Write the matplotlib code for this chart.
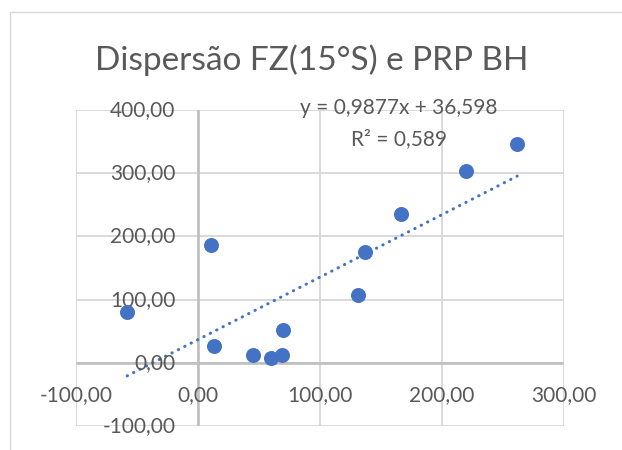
import numpy as np
import matplotlib
matplotlib.use('Agg')
import matplotlib.pyplot as plt
from matplotlib.patches import Rectangle

# Dados (FZ 15°S x PRP BH)
fz = [-58, 11, 13, 45, 60, 69, 70, 131, 137, 167, 220, 262]
prp = [81, 187, 27, 13, 7, 12, 52, 107, 176, 235, 303, 346]

# Linha de tendência linear (valores da legenda do Excel)
slope = 0.9877
intercept = 36.598
r2 = 0.589

x_ticks = [-100, 0, 100, 200, 300]
y_ticks = [-100, 0, 100, 200, 300, 400]

title = 'Dispersão FZ(15°S) e PRP BH'

plt.rcParams['font.family'] = ['Lato', 'DejaVu Sans']
txt_color = '#595959'


def fmt(v):
    return f'{v:.2f}'.replace('.', ',')


W, H = 622, 450
fig = plt.figure(figsize=(W / 100, H / 100), dpi=100)

# moldura do gráfico
fig.patches.append(Rectangle((10 / W, -0.1), 1.2, 1 - 12 / H + 0.1,
                             transform=fig.transFigure, fill=False,
                             edgecolor='#D9D9D9', linewidth=1.0))

left, right, top, bottom = 76, 563.5, 110, 426
ax = fig.add_axes([left / W, 1 - bottom / H, (right - left) / W, (bottom - top) / H])
ax.set_xlim(-100, 300)
ax.set_ylim(-100, 400)
for s in ax.spines.values():
    s.set_visible(False)
ax.set_xticks(x_ticks)
ax.set_yticks(y_ticks)
ax.tick_params(length=0, labelleft=False, labelbottom=False)
ax.grid(True, color='#D9D9D9', linewidth=1.4)
ax.set_axisbelow(True)
ax.set_facecolor('none')

# eixos cruzando na origem
ax.axvline(0, color='#BFBFBF', linewidth=1.9, zorder=1)
ax.axhline(0, color='#BFBFBF', linewidth=1.9, zorder=1)

# rótulos dos eixos ao lado das linhas de eixo
for v in y_ticks:
    ax.annotate(fmt(v), xy=(0, v), xytext=(-16, 0), textcoords='offset points',
                ha='right', va='center', fontsize=15, color=txt_color,
                annotation_clip=False)
for v in x_ticks:
    ax.annotate(fmt(v), xy=(v, 0), xytext=(0, -23), textcoords='offset points',
                ha='center', va='center', fontsize=15, color=txt_color,
                annotation_clip=False)

# pontos
ax.scatter(fz, prp, s=10.8 ** 2, color='#4472C4', zorder=3, linewidths=0)

# tendência
xs = np.array([min(fz), max(fz)])
ax.plot(xs, slope * xs + intercept, color='#4472C4', linewidth=2.2,
        linestyle=(0, (0.1, 2.25)), dash_capstyle='round', zorder=2)

eq = f'y = {slope:.4f}x + {intercept:.3f}'.replace('.', ',')
fig.text(399 / W, 1 - 108 / H, eq, ha='center', va='center',
         fontsize=15, color=txt_color)
fig.text(399 / W, 1 - 139 / H, f'R² = {r2:.3f}'.replace('.', ','),
         ha='center', va='center', fontsize=15, color=txt_color)

fig.text(312 / W, 1 - 60 / H, title, ha='center', va='center',
         fontsize=24, color=txt_color)

fig.savefig('out.png', dpi=100)
